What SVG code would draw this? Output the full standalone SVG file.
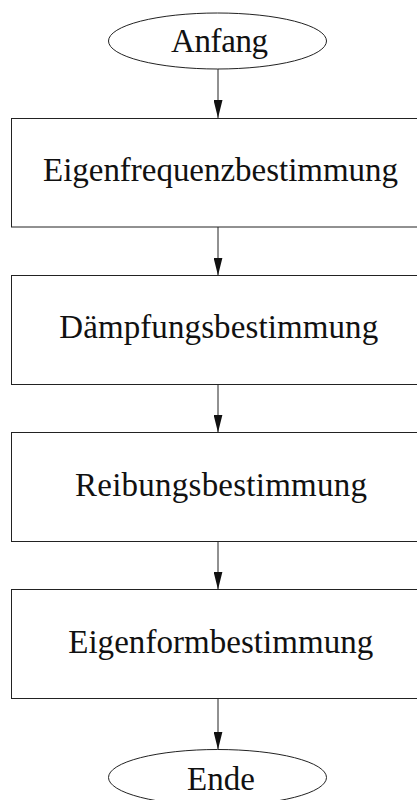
<svg xmlns="http://www.w3.org/2000/svg" width="417" height="800" viewBox="0 0 417 800">
<defs>
<style>
.n{fill:#fff;stroke:#222;stroke-width:1}
.t{font-family:"Liberation Serif","Times New Roman",serif;font-size:33px;fill:#111;text-anchor:middle}
.c{stroke:#222;stroke-width:1;fill:none;marker-end:url(#ah)}
</style>
<marker id="ah" markerUnits="userSpaceOnUse" markerWidth="18" markerHeight="9" refX="18" refY="4.5" orient="auto" viewBox="0 0 18 9">
<path d="M0,0 L18,4.5 L0,9 Z" fill="#111"/>
</marker>
</defs>
<rect width="417" height="800" fill="#fff"/>
<g id="connectors">
<line class="c" x1="218" y1="69" x2="218" y2="118"/>
<line class="c" x1="218" y1="227" x2="218" y2="275.5"/>
<line class="c" x1="218" y1="384.5" x2="218" y2="432.5"/>
<line class="c" x1="218" y1="541.5" x2="218" y2="589.5"/>
<line class="c" x1="218" y1="698.5" x2="218" y2="749.5"/>
</g>
<g id="anfang">
<ellipse class="n" cx="217.5" cy="41" rx="109" ry="28"/>
<text class="t" x="219.5" y="51.5" textLength="97" lengthAdjust="spacing">Anfang</text>
</g>
<g id="eigenfrequenz">
<rect class="n" x="11.5" y="118.5" width="414" height="108.5"/>
<text class="t" x="220.5" y="181" textLength="355" lengthAdjust="spacing">Eigenfrequenzbestimmung</text>
</g>
<g id="daempfung">
<rect class="n" x="11.5" y="275.5" width="414" height="109"/>
<text class="t" x="218.7" y="338" textLength="319" lengthAdjust="spacing">Dämpfungsbestimmung</text>
</g>
<g id="reibung">
<rect class="n" x="11.5" y="432.5" width="414" height="109"/>
<text class="t" x="221" y="496" textLength="292" lengthAdjust="spacing">Reibungsbestimmung</text>
</g>
<g id="eigenform">
<rect class="n" x="11.5" y="589.5" width="414" height="109"/>
<text class="t" x="220.7" y="652.5" textLength="305" lengthAdjust="spacing">Eigenformbestimmung</text>
</g>
<g id="ende">
<ellipse class="n" cx="217.5" cy="777.5" rx="109" ry="28"/>
<text class="t" x="221" y="789.5" textLength="68" lengthAdjust="spacing">Ende</text>
</g>
</svg>
